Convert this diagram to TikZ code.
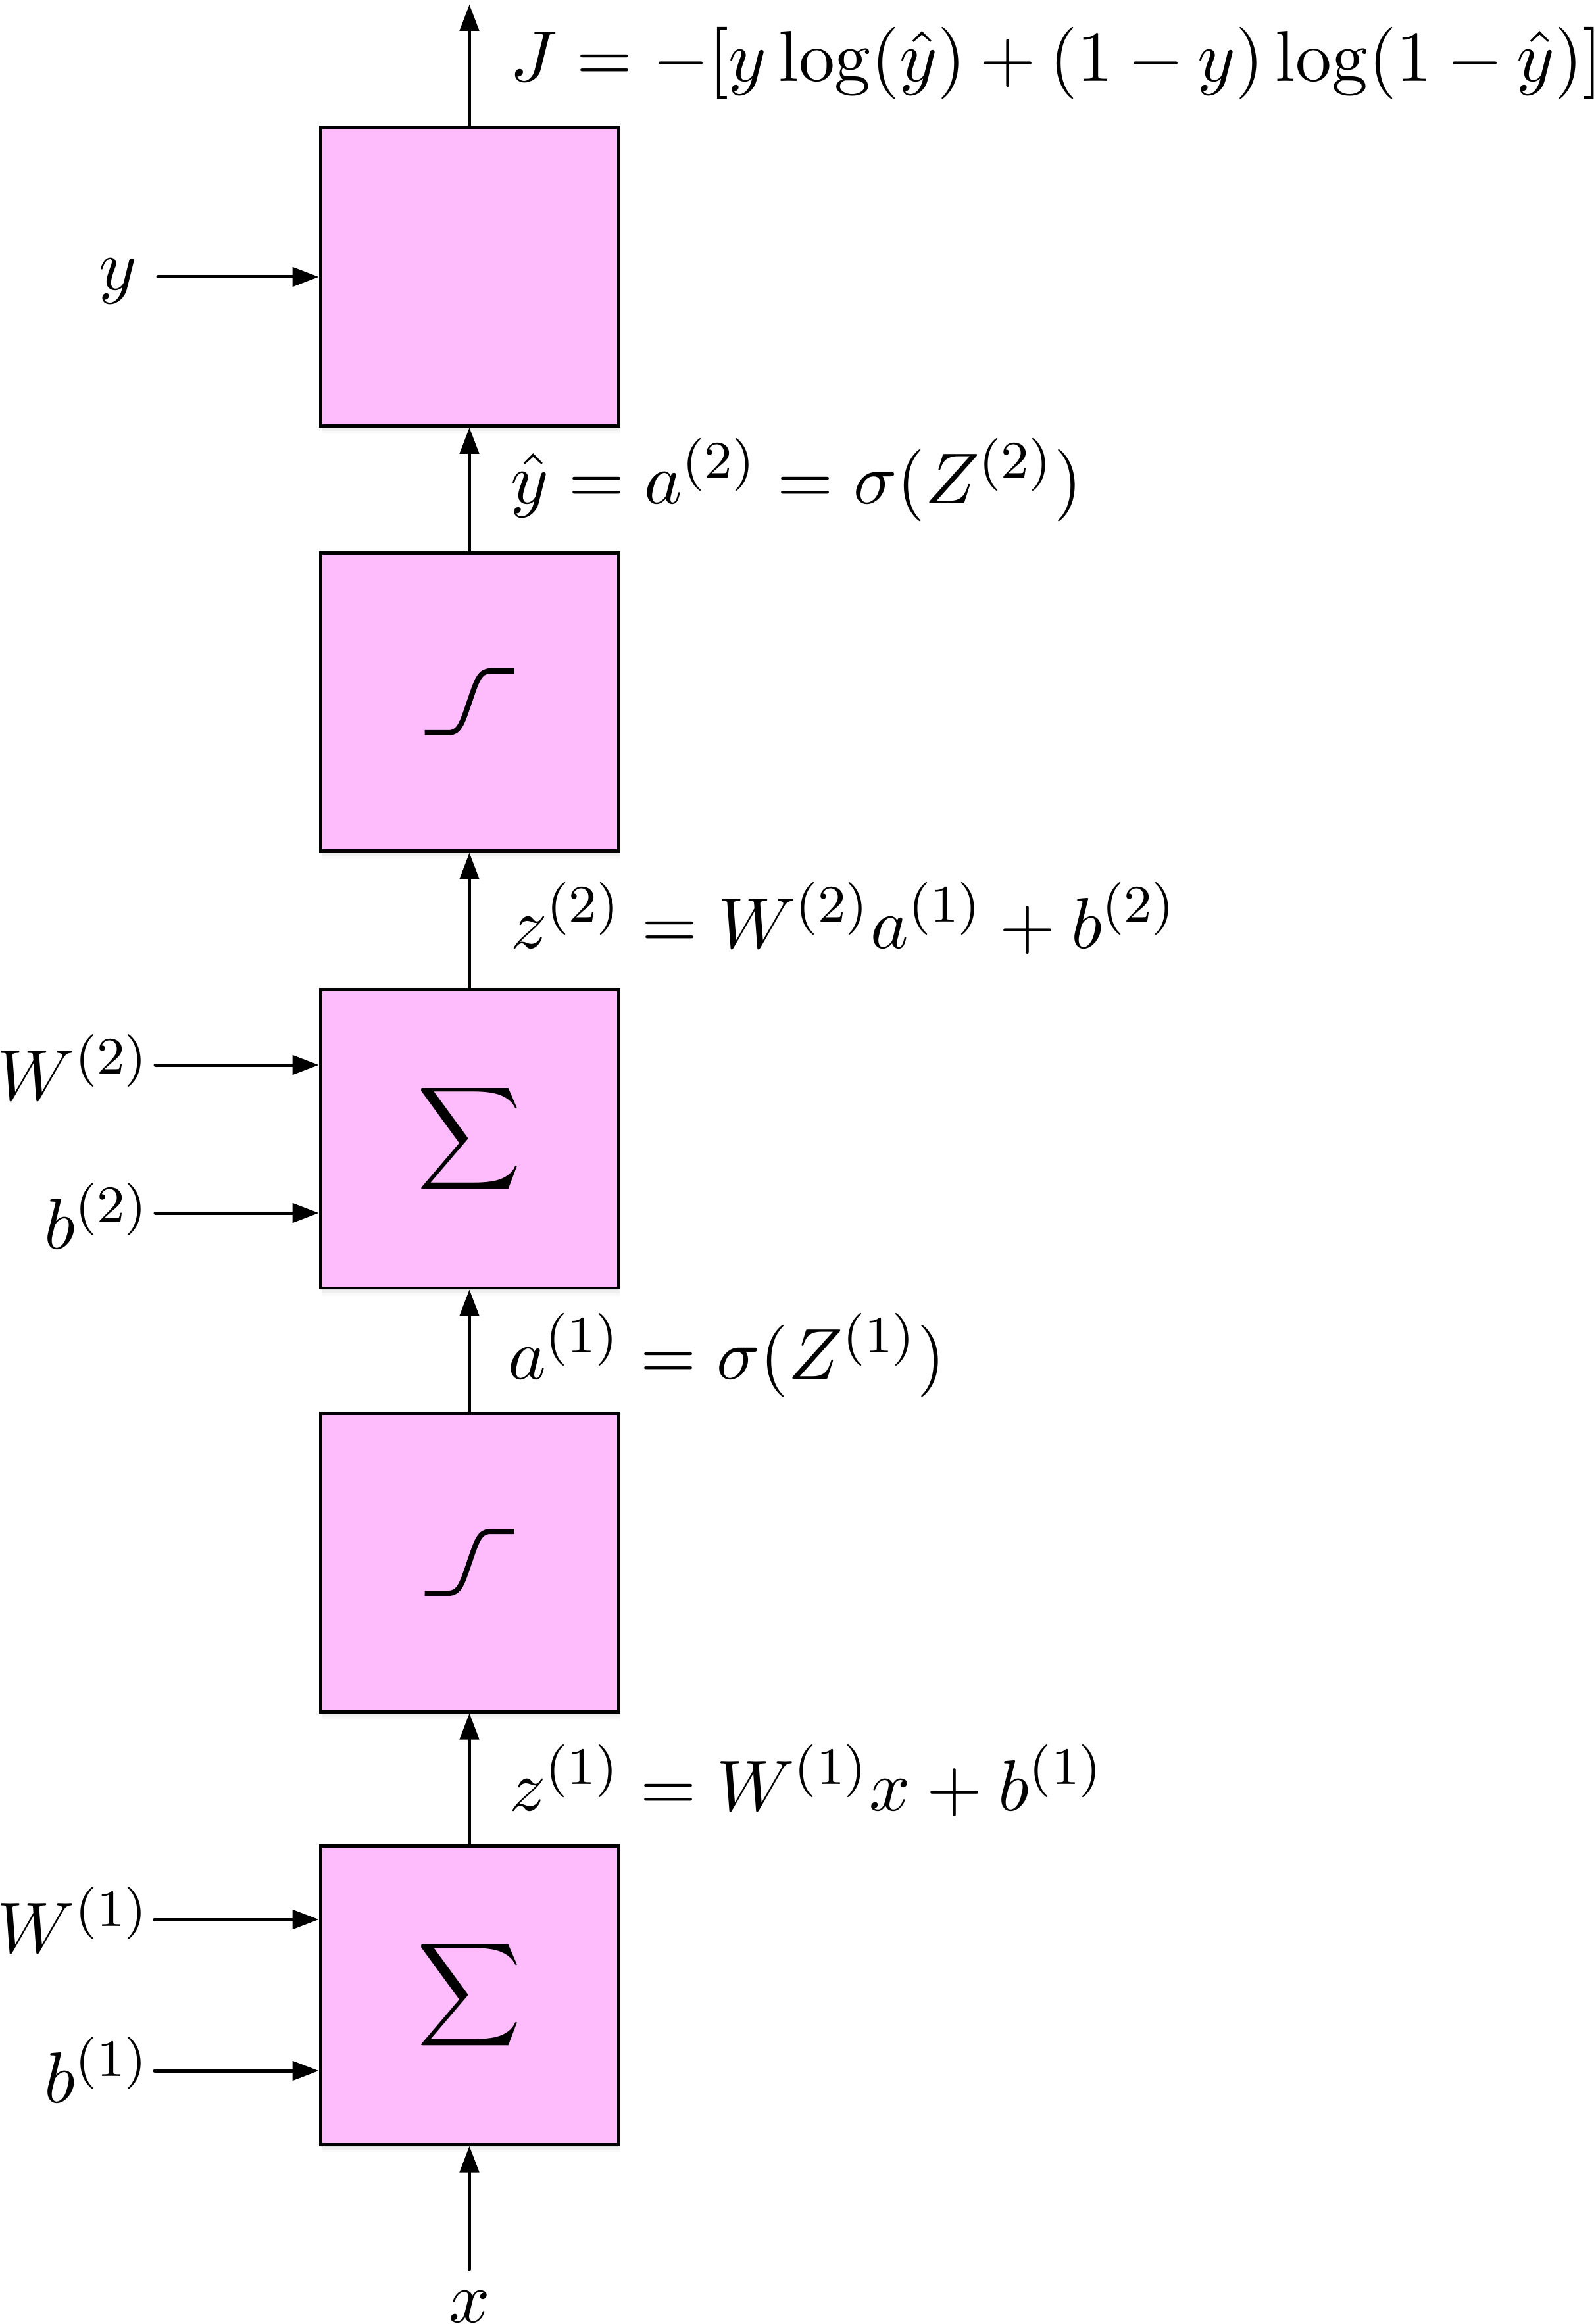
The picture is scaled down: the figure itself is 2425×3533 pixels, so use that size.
\documentclass[tikz,border=0pt,11pt]{standalone}
\usepackage{exscale}
\usetikzlibrary{arrows.meta,shadows}
\definecolor{boxpink}{RGB}{254,188,252}
\begin{document}
\begin{tikzpicture}[x=0.1pt,y=-0.1pt,
  blk/.style={draw=black, line width=0.5pt, fill=boxpink,
    minimum width=45.3pt, minimum height=45.4pt, inner sep=0pt,
    drop shadow={shadow xshift=0pt, shadow yshift=-0.35pt, opacity=0.14},
    drop shadow={shadow xshift=0.2pt, shadow yshift=-0.8pt, opacity=0.08},
    drop shadow={shadow xshift=0.3pt, shadow yshift=-1.2pt, opacity=0.05}},
  arr/.style={line width=0.5pt, line cap=round, -{Triangle[length=4pt,width=2.9pt]}},
  lbl/.style={inner sep=0pt, outer sep=0pt},
  sigline/.style={line width=0.8pt},
  sigmoid/.pic={\draw[sigline] (-68,47) -- (-32,47) .. controls (-15,47) and (-11,32) .. (0,0) .. controls (11,-32) and (15,-47) .. (32,-47) -- (68,-47);}]
\useasboundingbox (0,0) rectangle (2425,3533);
% boxes
\node[blk] (cost) at (713.5,420.5) {};
\node[blk] (sig2) at (713.5,1067) {};
\node[blk] (sum2) at (713.5,1731) {$\displaystyle\sum$};
\node[blk] (sig1) at (713.5,2375) {};
\node[blk] (sum1) at (713.5,3033) {$\displaystyle\sum$};
\pic at (sig2.center) {sigmoid};
\pic at (sig1.center) {sigmoid};
% vertical connectors
\coordinate (out) at (713.5,7);
\coordinate (xin) at (713.5,3450);
\draw[arr] (cost.north) -- (out);
\draw[arr] (sig2.north) -- (cost.south);
\draw[arr] (sum2.north) -- (sig2.south);
\draw[arr] (sig1.north) -- (sum2.south);
\draw[arr] (sum1.north) -- (sig1.south);
\draw[arr] (xin) -- (sum1.south);
% horizontal inputs
\coordinate (ys) at (240,421);
\coordinate (w2s) at (236,1619);
\coordinate (b2s) at (236,1844);
\coordinate (w1s) at (235,2918);
\coordinate (b1s) at (235,3148);
\draw[arr] (ys) -- (ys -| cost.west);
\draw[arr] (w2s) -- (w2s -| sum2.west);
\draw[arr] (b2s) -- (b2s -| sum2.west);
\draw[arr] (w1s) -- (w1s -| sum1.west);
\draw[arr] (b1s) -- (b1s -| sum1.west);
% labels
\node[lbl, anchor=base west] (lJ) at (775,124) {\medmuskip=3.5mu $J = -[y\log(\hat{y}) + (1-y)\log(1-\hat{y})]$};
\node[lbl, anchor=base west] (lyhat) at (776,766) {$\hat{y} = a^{(2)} = \sigma(Z^{(2)})$};
\node[lbl, anchor=base west] (lz2) at (776,1441) {$z^{(2)} = W^{(2)}a^{(1)} + b^{(2)}$};
\node[lbl, anchor=base west] (la1) at (772,2096) {$a^{(1)} = \sigma(Z^{(1)})$};
\node[lbl, anchor=base west] (lz1) at (774,2752) {$z^{(1)} = W^{(1)}x + b^{(1)}$};
\node[lbl, anchor=base] (lx) at (713.5,3530) {$x$};
\node[lbl, anchor=base east] (ly) at (208,441) {$y$};
\node[lbl, anchor=base east] (lW2) at (228,1672) {$W^{(2)}$};
\node[lbl, anchor=base east] (lb2) at (228,1898) {$b^{(2)}$};
\node[lbl, anchor=base east] (lW1) at (228,2968) {$W^{(1)}$};
\node[lbl, anchor=base east] (lb1) at (228,3196) {$b^{(1)}$};
\end{tikzpicture}
\end{document}
